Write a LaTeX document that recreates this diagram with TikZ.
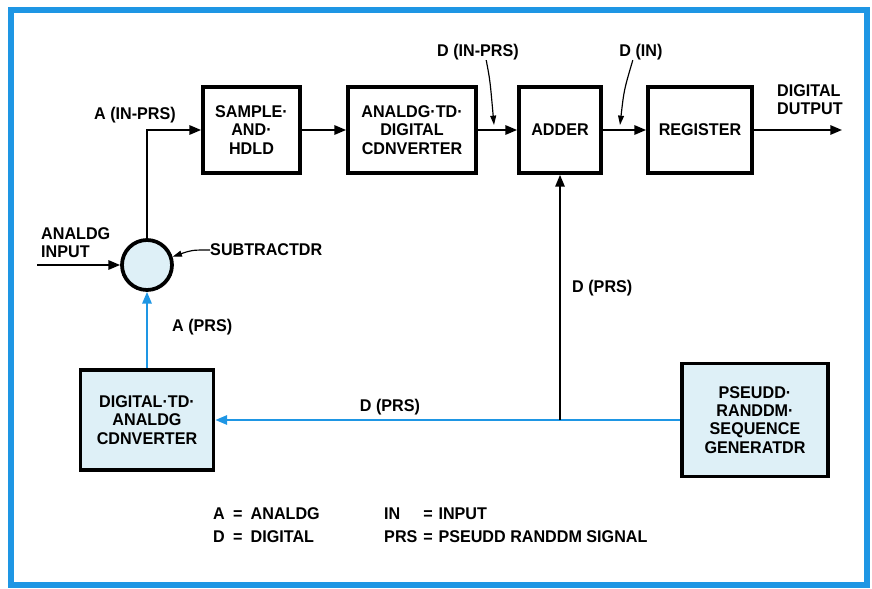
\documentclass[tikz,border=0pt]{standalone}
\usepackage{fontspec}
\setmainfont[FakeStretch=0.95]{Liberation Sans}
\usetikzlibrary{arrows.meta}

\definecolor{lineblue}{RGB}{30,150,228}
\definecolor{boxfill}{RGB}{222,240,247}

\tikzset{
    txt/.style={font=\fontsize{14.5}{15.5}\bfseries\selectfont, inner sep=0pt},
    block/.style={txt, draw, line width=3.2pt, align=center, minimum height=2.58cm},
    sig/.style={line width=1.6pt, -{Triangle[length=10pt,width=8pt]}},
    bluesig/.style={sig, draw=lineblue, -{Triangle[length=10pt,width=8pt,fill=lineblue]}},
    pointer/.style={line width=1pt, -{Triangle[length=8pt,width=5pt]}}
}

\begin{document}
\begin{tikzpicture}[x=0.03cm, y=-0.03cm]
    \useasboundingbox (0,0) rectangle (872,588);
    \draw[lineblue, line width=4.5pt] (11,10) rectangle (867,585);

    % upper chain
    \node[block, minimum width=2.91cm] (sah) at (251.5,130) {SAMPLE·\\AND·\\HDLD};
    \node[block, minimum width=3.84cm] (adc) at (412,130) {ANALDG·TD·\\DIGITAL\\CDNVERTER};
    \node[block, minimum width=2.46cm] (adder) at (560,130) {ADDER};
    \node[block, minimum width=3.12cm] (reg) at (700,130) {REGISTER};

    % lower boxes
    \node[block, fill=boxfill, minimum width=3.99cm, minimum height=3cm] (dac) at (147,420) {DIGITAL·TD·\\ANALDG\\CDNVERTER};
    \node[block, fill=boxfill, minimum width=4.38cm, minimum height=3.39cm] (prsg) at (755,420) {PSEUDD·\\RANDDM·\\SEQUENCE\\GENERATDR};
    \node[circle, draw, line width=3.2pt, fill=boxfill, minimum size=1.5cm] (sub) at (147,265) {};

    \coordinate (in) at (37,265);
    \coordinate (out) at (842,130);
    \coordinate (tap) at (560,420);

    \draw[sig] (in) -- (sub);
    \draw[sig] (sub.north) |- (sah.west);
    \draw[sig] (sah) -- (adc);
    \draw[sig] (adc) -- (adder);
    \draw[sig] (adder) -- (reg);
    \draw[sig] (reg) -- (out);
    \draw[bluesig] (prsg.west) -- (dac.east);
    \draw[sig, line width=1.3pt] (tap) -- (adder.south);
    \draw[bluesig] (dac.north) -- (sub.south);

    % labels
    \node[txt] (ainprs) at (135,115) {A (IN-PRS)};
    \node[txt, align=left, anchor=west] (ain) at (41,243) {ANALDG\\INPUT};
    \node[txt, anchor=west] (sublbl) at (210,250) {SUBTRACTDR};
    \node[txt] (dinprs) at (478,52) {D (IN-PRS)};
    \node[txt] (din) at (641,52) {D (IN)};
    \node[txt, align=left, anchor=west] (dout) at (777,100) {DIGITAL\\DUTPUT};
    \node[txt, anchor=west] (dprsup) at (572,288) {D (PRS)};
    \node[txt, anchor=west] (aprs) at (172,327) {A (PRS)};
    \node[txt] (dprslow) at (390,407) {D (PRS)};

    % pointers
    \coordinate (dinprsend) at (494,125);
    \coordinate (dinend) at (620,125);
    \draw[pointer] (sublbl.west) .. controls (192,250) .. (sub.18);
    \draw[pointer] ([xshift=7pt]dinprs.south) .. controls (490,80) .. (dinprsend);
    \draw[pointer] ([xshift=-7pt]din.south) .. controls (624,90) .. (dinend);

    % key
    \node[txt, anchor=north west, font=\fontsize{14.5}{19}\bfseries\selectfont] (keyl) at (213,504)
        {\begin{tabular}{@{}l@{\hspace{7pt}=\hspace{7pt}}l@{}}A & ANALDG\\ D & DIGITAL\end{tabular}};
    \node[txt, anchor=north west, font=\fontsize{14.5}{19}\bfseries\selectfont] (keyr) at (384,504)
        {\begin{tabular}{@{}l@{\hspace{5pt}=\hspace{5pt}}l@{}}IN & INPUT\\ PRS & PSEUDD RANDDM SIGNAL\end{tabular}};
\end{tikzpicture}
\end{document}
